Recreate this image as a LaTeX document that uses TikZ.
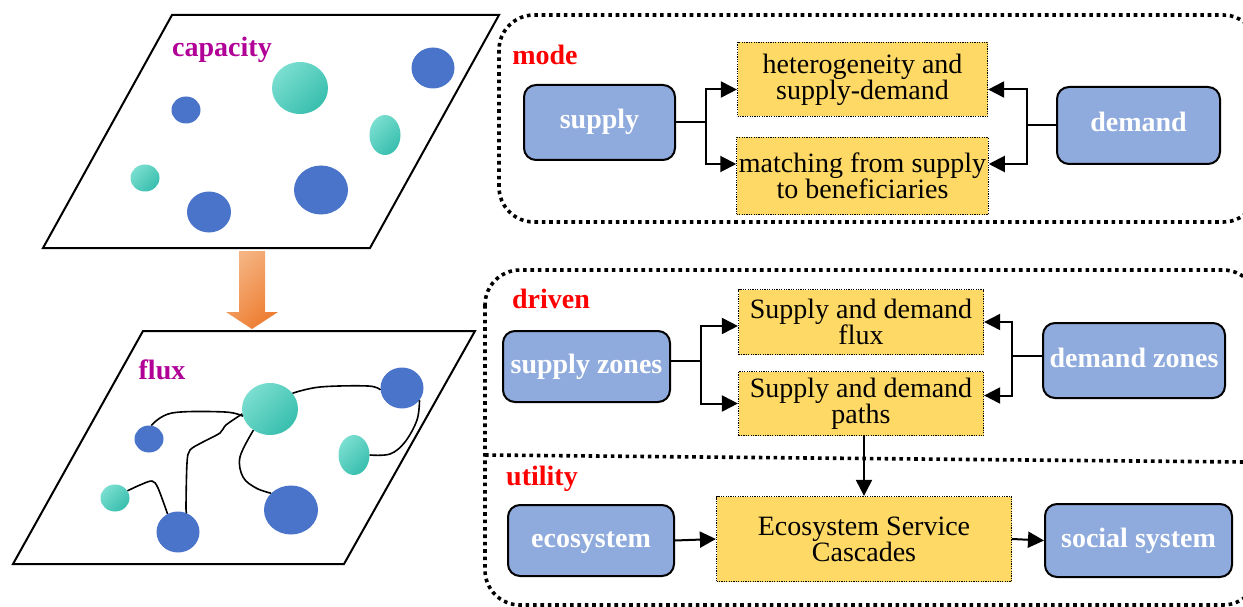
\documentclass[tikz,border=0pt]{standalone}
\usepackage{fontspec}
\setmainfont{Liberation Serif}
\usepackage{xcolor}
\usepackage{tikz}
\usetikzlibrary{arrows.meta, positioning, shapes.geometric, calc}
\definecolor{zoneblue}{RGB}{143, 170, 220}
\definecolor{dotblue}{RGB}{74, 116, 201}
\definecolor{tealA}{RGB}{122, 222, 208}
\definecolor{tealB}{RGB}{56, 190, 174}
\definecolor{resultyellow}{RGB}{255, 217, 102}
\definecolor{orangeA}{RGB}{245, 180, 130}
\definecolor{orangeB}{RGB}{237, 125, 49}
\definecolor{labelmag}{RGB}{176, 0, 150}

\begin{document}
\begin{tikzpicture}[x=1pt, y=-1pt,
    zone/.style={rectangle, rounded corners=12pt, draw=black, line width=2pt, fill=zoneblue, text=white, align=center, font=\fontsize{28}{26}\selectfont\bfseries},
    result/.style={rectangle, draw=black, dash pattern=on 1.2pt off 1.2pt, line width=1.2pt, fill=resultyellow, inner sep=2pt, align=center, font=\fontsize{28}{26}\selectfont},
    tag/.style={text=red, font=\fontsize{28}{26}\selectfont\bfseries},
    layer/.style={text=labelmag, font=\fontsize{28}{26}\selectfont\bfseries},
    bluedot/.style={ellipse, fill=dotblue, inner sep=0pt},
    tealdot/.style={ellipse, top color=tealA, bottom color=tealB, shading angle=45, inner sep=0pt},
    frame/.style={line width=3.6pt, dash pattern=on 3.6pt off 3.8pt, rounded corners=35pt},
    plane/.style={line width=2pt, line join=miter},
    flow/.style={line width=1.6pt},
    arr/.style={-{Triangle[length=16pt, width=16pt]}, line width=2pt},
    link/.style={line width=2pt}
]
\useasboundingbox (0,0) rectangle (1243,607);

% Capacity layer
\draw[plane] (172,15) -- (499,15) -- (370,248) -- (43,248) -- cycle;
\node[layer] (capacity) at (222,50) {capacity};
\node[tealdot, minimum width=56pt, minimum height=52pt] (ctb) at (300,88) {};
\node[bluedot, minimum width=43pt, minimum height=41pt] (cbt) at (433,68) {};
\node[bluedot, minimum width=29pt, minimum height=27pt] (cbs) at (186,110) {};
\node[tealdot, minimum width=31pt, minimum height=40pt] (cte) at (385,135) {};
\node[tealdot, minimum width=29pt, minimum height=27pt] (cts) at (145,178) {};
\node[bluedot, minimum width=44pt, minimum height=41pt] (cbb) at (209,212) {};
\node[bluedot, minimum width=54pt, minimum height=49pt] (cbl) at (321,190) {};

% Orange arrow between layers
\shade[top color=orangeA, bottom color=orangeB, shading angle=45] (239,251) -- (265,251) -- (265,312) -- (278,312) -- (252,329) -- (226,312) -- (239,312) -- cycle;

% Flux layer
\draw[plane] (143,331) -- (475,331) -- (344,564) -- (13,564) -- cycle;
\node[layer] (fluxtag) at (162,370) {flux};
\node[tealdot, minimum width=56pt, minimum height=52pt] (ftb) at (270,409) {};
\node[bluedot, minimum width=43pt, minimum height=41pt] (fbt) at (402,388) {};
\node[bluedot, minimum width=29pt, minimum height=27pt] (fbs) at (149,439) {};
\node[tealdot, minimum width=31pt, minimum height=40pt] (fte) at (354,455) {};
\node[tealdot, minimum width=29pt, minimum height=27pt] (fts) at (115,498) {};
\node[bluedot, minimum width=43pt, minimum height=41pt] (fbb) at (178,532) {};
\node[bluedot, minimum width=54pt, minimum height=49pt] (fbl) at (291,510) {};

% Flux paths
\draw[flow] plot[smooth, tension=0.6] coordinates {(fbs.80) (172,413) (225,412) (ftb.195)};
\draw[flow] plot[smooth, tension=0.5] coordinates {(ftb.190) (226,425) (220,433) (203,442) (190,450) (187,463) (186,507) (fbb.65)};
\draw[flow] plot[smooth, tension=0.5] coordinates {(fts.30) (140,485) (152,481) (158,488) (fbb.120)};
\draw[flow] plot[smooth, tension=0.6] coordinates {(ftb.232) (240,457) (243,477) (256,488) (fbl.140)};
\draw[flow] plot[smooth, tension=0.6] coordinates {(ftb.35) (320,387) (368,386) (fbt.185)};
\draw[flow] plot[smooth, tension=0.6] coordinates {(fbt.325) (417,420) (405,442) (390,454) (fte.0)};

% Mode panel
\draw[frame] (499,15) rectangle (1258,222);
\node[tag] (mode) at (545,55) {mode};
\node[zone, minimum width=151pt, minimum height=75pt, text height=18pt, text depth=5pt] (supply) at (599.5,122.5) {supply};
\node[zone, minimum width=163pt, minimum height=77pt, text height=18pt, text depth=5pt] (demand) at (1138.5,125.5) {demand};
\node[result, minimum width=250pt, minimum height=74pt] (hetero) at (862.5,79.5) {heterogeneity and\\supply-demand};
\node[result, minimum width=250pt, minimum height=77pt] (match) at (862.5,176) {matching from supply\\to beneficiaries};

\draw[link] (supply.east) -- ++(30,0) coordinate (sfork);
\draw[arr] (sfork) |- ([yshift=-10pt]hetero.west);
\draw[arr] (sfork) |- ([yshift=12pt]match.west);
\draw[link] (demand.west) -- ++(-29,0) coordinate (dfork);
\draw[arr] (dfork) |- ([yshift=-10pt]hetero.east);
\draw[arr] (dfork) |- ([yshift=12pt]match.east);

% Driven and utility panel
\draw[frame] (485,270) rectangle (1258,605);
\draw[frame] (485,455) -- (1243,462);
\node[tag] (driven) at (551,299) {driven};
\node[tag] (utility) at (542,479) {utility};
\node[zone, minimum width=167pt, minimum height=71pt, text height=18pt, text depth=5pt] (sz) at (586.5,366.5) {supply zones};
\node[zone, minimum width=182pt, minimum height=75pt, text height=18pt, text depth=5pt] (dz) at (1134,360.5) {demand zones};
\node[result, minimum width=245pt, minimum height=65pt] (sdflux) at (861,322) {Supply and demand\\flux};
\node[result, minimum width=245pt, minimum height=64pt] (sdpath) at (861,403.5) {Supply and demand\\paths};

\draw[link] ([yshift=6pt]sz.east) -- ++(30,0) coordinate (szfork);
\draw[arr] (szfork) |- ([yshift=-4pt]sdflux.west);
\draw[arr] (szfork) |- (sdpath.west);
\draw[link] ([yshift=5pt]dz.west) -- ++(-30,0) coordinate (dzfork);
\draw[arr] (dzfork) |- (sdflux.east);
\draw[arr] (dzfork) |- ([yshift=8pt]sdpath.east);

\node[zone, minimum width=166pt, minimum height=71pt, text height=18pt, text depth=5pt] (eco) at (591,540.5) {ecosystem};
\node[result, minimum width=295pt, minimum height=85pt] (cascade) at (864,539) {Ecosystem Service\\Cascades};
\node[zone, minimum width=187pt, minimum height=73pt, text height=18pt, text depth=5pt] (social) at (1138.5,540.5) {social system};

\draw[arr] (sdpath.south -| cascade.north) -- (cascade.north);
\draw[arr] (eco.east) -- (cascade.west);
\draw[arr] (cascade.east) -- (social.west);

\end{tikzpicture}
\end{document}
